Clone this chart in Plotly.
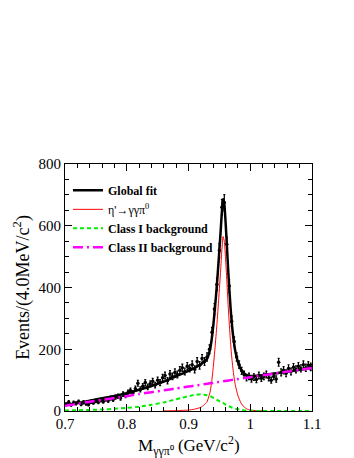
import numpy as np
import plotly.graph_objects as go

# data histogram: 4 MeV bins from 0.7 to 1.1 GeV
bin_centers = [round(0.702 + 0.004 * i, 3) for i in range(100)]
events = [
    22, 28, 20, 27, 25, 30, 22, 28, 24, 21,
    30, 27, 33, 29, 35, 31, 38, 34, 42, 37,
    45, 48, 42, 55, 50, 60, 66, 58, 72, 90,
    70, 80, 92, 78, 88, 96, 84, 100, 92, 108,
    115, 98, 120, 112, 125, 118, 132, 140, 128, 145,
    138, 150, 135, 160, 148, 170, 160, 175, 200, 255,
    330, 410, 520, 660, 675, 540, 405, 290, 225, 175,
    150, 130, 118, 108, 112, 104, 110, 102, 115, 106,
    112, 118, 108, 100, 112, 104, 158, 125, 132, 122,
    138, 128, 142, 135, 145, 138, 150, 140, 148, 143,
]

# fit components sampled on a common grid
curve_x = [0.70, 0.72, 0.74, 0.76, 0.78, 0.80, 0.82, 0.84, 0.86, 0.88,
           0.89, 0.90, 0.91, 0.92, 0.925, 0.93, 0.935, 0.9375, 0.94, 0.943,
           0.946, 0.949, 0.952, 0.954, 0.956, 0.958, 0.960, 0.962, 0.964, 0.966,
           0.968, 0.970, 0.973, 0.976, 0.980, 0.985, 0.990, 0.995, 1.000, 1.01,
           1.02, 1.04, 1.06, 1.08, 1.10]
signal = [0, 0, 0, 0, 0, 0, 0, 0, 0.3, 1,
          2, 3, 6, 12, 19, 30, 62, 95, 140, 205,
          280, 365, 455, 520, 565, 550, 495, 425, 350, 285,
          225, 175, 120, 82, 50, 26, 13, 6, 3, 1,
          0.3, 0, 0, 0, 0]
bkg_class1 = [1.5, 2.5, 3.5, 5, 7, 10, 14, 20, 28, 38,
              43, 48, 52, 54, 53, 51, 48, 46, 43, 40,
              36, 33, 30, 28, 26, 23.5, 21, 19, 17, 15,
              13, 11.5, 9.5, 7.5, 5.5, 3.5, 2, 1.2, 0.7, 0.3,
              0.1, 0, 0, 0, 0]
bkg_class2 = [17, 23, 30, 36, 42, 48, 55, 61, 67, 73,
              76, 79, 82, 85, 87, 88, 90, 90.5, 91, 92,
              93, 94, 95, 95.5, 96, 97, 97.5, 98, 98.5, 99,
              100, 100.5, 101.5, 102, 103.5, 105, 106.5, 108, 109.5, 112.5,
              115.5, 121.5, 127.5, 133.5, 139.5]

global_fit = list(np.array(signal) + np.array(bkg_class1) + np.array(bkg_class2))

FONT = "Liberation Serif, Times New Roman, serif"

fig = go.Figure()

fig.add_trace(go.Scatter(
    x=bin_centers, y=events, mode="markers", showlegend=False,
    marker=dict(color="black", size=3.5),
    error_y=dict(type="data", array=list(np.sqrt(events)), color="black",
                 thickness=1.2, width=1),
))

fig.add_trace(go.Scatter(
    x=curve_x, y=global_fit, mode="lines", name="<b>Global fit</b>",
    line=dict(color="black", width=2.5, shape="spline", smoothing=0.5),
))

# signal only drawn where it rises off the axis
sig_start = curve_x.index(0.86)
fig.add_trace(go.Scatter(
    x=curve_x[sig_start:sig_start + 33], y=signal[sig_start:sig_start + 33],
    mode="lines", name="η'→γγπ<sup>0</sup>",
    line=dict(color="#ff0000", width=1, shape="spline", smoothing=0.5),
))

fig.add_trace(go.Scatter(
    x=curve_x, y=bkg_class1, mode="lines", name="<b>Class I background</b>",
    line=dict(color="#00ee00", width=2, dash="4px,3px", shape="spline", smoothing=0.5),
))

fig.add_trace(go.Scatter(
    x=curve_x, y=bkg_class2, mode="lines", name="<b>Class II background</b>",
    line=dict(color="#ff00ff", width=2.5, dash="10px,4px,2px,4px", shape="spline", smoothing=0.5),
))

axis_common = dict(
    showline=True, linecolor="black", linewidth=1, mirror="allticks",
    ticks="inside", ticklen=7, tickcolor="black", showgrid=False, zeroline=False,
    tickfont=dict(family=FONT, size=15, color="black"),
)

fig.update_xaxes(
    range=[0.7, 1.1], tickvals=[0.7, 0.8, 0.9, 1.0, 1.1],
    ticktext=["0.7", "0.8", "0.9", "1", "1.1"],
    ticklabelstandoff=-1,
    minor=dict(dtick=0.02, ticks="inside", ticklen=4, tickcolor="black"),
    **axis_common,
)
fig.update_yaxes(
    range=[0, 800], dtick=200,
    minor=dict(dtick=50, ticks="inside", ticklen=4, tickcolor="black"),
    title=dict(text="Events/(4.0MeV/c<sup>2</sup>)",
               font=dict(family=FONT, size=18, color="black"), standoff=4),
    **axis_common,
)

# x title as annotation so the subscript stays inside the page
fig.add_annotation(
    text="M<sub>γγπ⁰</sub> (GeV/c<sup>2</sup>)", xref="paper", yref="paper",
    x=0.5, y=0, xanchor="center", yanchor="top", yshift=-20, showarrow=False,
    font=dict(family=FONT, size=17, color="black"),
)

# page body has an 8px margin, so the figure is 8px smaller than the window
fig.update_layout(
    width=346, height=450,
    margin=dict(l=57, r=42, t=156, b=47),
    paper_bgcolor="white", plot_bgcolor="white",
    legend=dict(x=0.012, y=0.952, xanchor="left", yanchor="top",
                bgcolor="rgba(0,0,0,0)", tracegroupgap=0,
                font=dict(family=FONT, size=12, color="black")),
)

fig.write_html("out.html")
